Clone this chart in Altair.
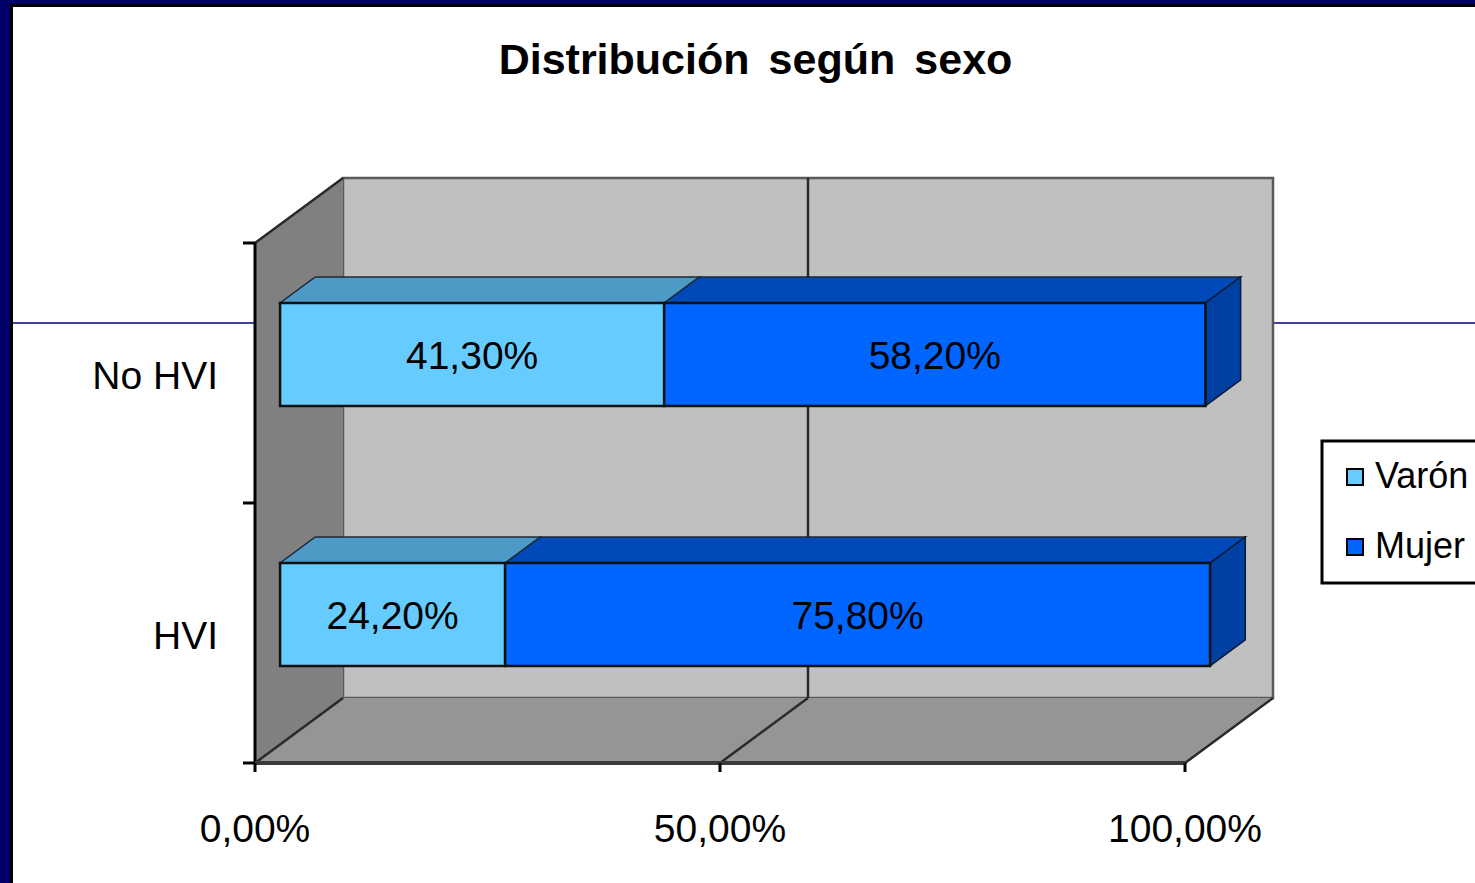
import altair as alt
import pandas as pd

# ---- data -----------------------------------------------------------------
categories = ["HVI", "No HVI"]
series = ["Varón", "Mujer"]
varon = [24.2, 41.3]
mujer = [75.8, 58.2]
x_ticks = [0, 50, 100]
x_tick_labels = ["0,00%", "50,00%", "100,00%"]
title_text = "Distribución\u2006 según\u2006 sexo"

# ---- styling --------------------------------------------------------------
front_colors = ["#66ccff", "#0066ff"]
top_colors = ["#4d9ac6", "#0049b8"]
side_color = "#0040a0"
FONT = "Liberation Sans"

PX_PER_PCT = 9.3          # horizontal pixels per percentage point
PX_PER_ROW = 260          # vertical pixels per category band
DEPTH_X = 88 / PX_PER_PCT  # 3-D depth shift, in x units
DEPTH_Y = 65 / PX_PER_ROW  # 3-D depth shift, in y units
BAR_FRONT = 0.285         # depth fraction where the bar front sits
BAR_DEPTH = 0.40          # bar thickness as a fraction of full depth
BAR_HALF = 0.198          # half bar height, in y units

X_MAX = 100 + DEPTH_X
Y_MAX = 2 + DEPTH_Y
W = round(X_MAX * PX_PER_PCT)
H = round(Y_MAX * PX_PER_ROW)
PAD_L, PAD_T = 255, 178
CANVAS_W, CANVAS_H = 1475, 883

xs = alt.Scale(domain=[0, X_MAX], nice=False, zero=False)
ys = alt.Scale(domain=[0, Y_MAX], nice=False, zero=False)


def ex(f="x"):
    return alt.X(f"{f}:Q", scale=xs, axis=None)


def ey(f="y"):
    return alt.Y(f"{f}:Q", scale=ys, axis=None)


one = pd.DataFrame({"k": [0]})

# ---- frame and slide decoration -------------------------------------------
frame_black = alt.Chart(one).mark_rect(color="black").encode(
    x=alt.value(10 - PAD_L), x2=alt.value(CANVAS_W - PAD_L),
    y=alt.value(4 - PAD_T), y2=alt.value(CANVAS_H - PAD_T))
frame_white = alt.Chart(one).mark_rect(color="white").encode(
    x=alt.value(13 - PAD_L), x2=alt.value(CANVAS_W - PAD_L),
    y=alt.value(7 - PAD_T), y2=alt.value(CANVAS_H - PAD_T))
slide_line = alt.Chart(one).mark_rule(color="#000080", strokeWidth=1.5).encode(
    x=alt.value(13 - PAD_L), x2=alt.value(CANVAS_W - PAD_L),
    y=alt.value(323 - PAD_T))

# ---- walls ----------------------------------------------------------------
back_wall = alt.Chart(pd.DataFrame(
    {"x": [DEPTH_X], "x2": [100 + DEPTH_X], "y": [DEPTH_Y], "y2": [2 + DEPTH_Y]}
)).mark_rect(color="#c0c0c0", stroke="#5a5a5a", strokeWidth=2.5).encode(
    x=ex(), x2="x2:Q", y=ey(), y2="y2:Q")

side_wall = alt.Chart(pd.DataFrame(
    {"x": [0, DEPTH_X], "y": [0, DEPTH_Y], "y2": [2, 2 + DEPTH_Y]}
)).mark_area(orient="vertical", color="#808080").encode(
    x=ex(), y=ey(), y2="y2:Q")

floor = alt.Chart(pd.DataFrame(
    {"x": [0, DEPTH_X, 100, 100 + DEPTH_X],
     "y": [0, 0, 0, DEPTH_Y],
     "y2": [0, DEPTH_Y, DEPTH_Y, DEPTH_Y]}
)).mark_area(orient="vertical", color="#959595").encode(
    x=ex(), y=ey(), y2="y2:Q")

# edges and the 50 % gridline on the back wall and floor
edges = pd.DataFrame({
    "x": [50 + DEPTH_X, 50, 0, 100, 0],
    "x2": [50 + DEPTH_X, 50 + DEPTH_X, DEPTH_X, 100 + DEPTH_X, DEPTH_X],
    "y": [DEPTH_Y, 0, 2, 0, 0],
    "y2": [2 + DEPTH_Y, DEPTH_Y, 2 + DEPTH_Y, DEPTH_Y, DEPTH_Y],
})
edge_lines = alt.Chart(edges).mark_rule(color="#2a2a2a", strokeWidth=2.5).encode(
    x=ex(), x2="x2:Q", y=ey(), y2="y2:Q")

# ---- axes -----------------------------------------------------------------
y_axis = alt.Chart(pd.DataFrame({"x": [0], "y": [0], "y2": [2]})).mark_rule(
    color="black", strokeWidth=3).encode(x=ex(), y=ey(), y2="y2:Q")
x_axis = alt.Chart(pd.DataFrame({"x": [0], "x2": [100], "y": [0]})).mark_rule(
    color="#3a3a3a", strokeWidth=4).encode(x=ex(), x2="x2:Q", y=ey())
x_tick_marks = alt.Chart(pd.DataFrame({"x": x_ticks})).mark_rule(
    color="black", strokeWidth=3).encode(
    x=ex(), y=alt.value(H), y2=alt.value(H + 9))
y_tick_marks = alt.Chart(pd.DataFrame({"y": [0, 1, 2]})).mark_rule(
    color="black", strokeWidth=3).encode(
    y=ey(), x=alt.value(-12), x2=alt.value(0))
x_labels = alt.Chart(pd.DataFrame({"x": x_ticks, "t": x_tick_labels})).mark_text(
    font=FONT, fontSize=39, color="black", baseline="middle", align="center").encode(
    x=ex(), y=alt.value(830 - PAD_T), text="t:N")
y_labels = alt.Chart(pd.DataFrame(
    {"y": [i + 0.5 for i in range(len(categories))], "t": categories}
)).mark_text(font=FONT, fontSize=39, color="black", baseline="middle",
             align="right", dy=4).encode(
    y=ey(), x=alt.value(218 - PAD_L), text="t:N")

# ---- bars -----------------------------------------------------------------
fdx, fdy = BAR_FRONT * DEPTH_X, BAR_FRONT * DEPTH_Y
bdx, bdy = BAR_DEPTH * DEPTH_X, BAR_DEPTH * DEPTH_Y

fronts, tops, sides = [], [], []
for r, cat in enumerate(categories):
    start = 0.0
    seg_vals = [varon[r], mujer[r]]
    for s, (name, v) in enumerate(zip(series, seg_vals)):
        end = start + v
        x0, x1 = start + fdx, end + fdx
        y0 = r + 0.5 - BAR_HALF + fdy
        y1 = r + 0.5 + BAR_HALF + fdy
        fronts.append(dict(series=name, x=x0, x2=x1, y=y0, y2=y1,
                           cx=(x0 + x1) / 2, cy=(y0 + y1) / 2,
                           label=f"{v:.2f}".replace(".", ",") + "%"))
        key = f"{cat}-{name}"
        for px, py, py2 in [(x0, y1, y1), (x0 + bdx, y1, y1 + bdy),
                            (x1, y1, y1 + bdy), (x1 + bdx, y1 + bdy, y1 + bdy)]:
            tops.append(dict(key=key, x=px, y=py, y2=py2, fill=top_colors[s]))
        if s == len(seg_vals) - 1:
            sides.append(dict(key=key, x=x1, y=y0, y2=y1, fill=side_color))
            sides.append(dict(key=key, x=x1 + bdx, y=y0 + bdy, y2=y1 + bdy,
                              fill=side_color))
        start = end

front_df = pd.DataFrame(fronts)
top_faces = alt.Chart(pd.DataFrame(tops)).mark_area(
    orient="vertical", stroke="#1e2a35", strokeWidth=1.5).encode(
    x=ex(), y=ey(), y2="y2:Q", fill=alt.Fill("fill:N", scale=None),
    detail="key:N")
side_faces = alt.Chart(pd.DataFrame(sides)).mark_area(
    orient="vertical", stroke="#0a1a3a", strokeWidth=1.5).encode(
    x=ex(), y=ey(), y2="y2:Q", fill=alt.Fill("fill:N", scale=None),
    detail="key:N")
front_faces = alt.Chart(front_df).mark_rect(stroke="#111111", strokeWidth=2.5).encode(
    x=ex(), x2="x2:Q", y=ey(), y2="y2:Q",
    color=alt.Color("series:N",
                    scale=alt.Scale(domain=series, range=front_colors),
                    legend=alt.Legend(title=None, orient="none",
                                      legendX=1322 - PAD_L, legendY=441 - PAD_T,
                                      symbolType="square", symbolSize=256,
                                      symbolStrokeColor="black",
                                      symbolStrokeWidth=2,
                                      labelFont=FONT, labelFontSize=36,
                                      labelColor="black", labelOffset=2,
                                      symbolOffset=-3, rowPadding=34,
                                      padding=18, strokeColor="black",
                                      fillColor="white")))
bar_labels = alt.Chart(front_df).mark_text(
    font=FONT, fontSize=39, color="black", baseline="middle", align="center",
    dy=3).encode(
    x=alt.X("cx:Q", scale=xs, axis=None), y=alt.Y("cy:Q", scale=ys, axis=None),
    text="label:N")

title = alt.Chart(one).mark_text(
    font=FONT, fontSize=43, fontWeight="bold", color="black",
    align="center", baseline="alphabetic").encode(
    x=alt.value(755.5 - PAD_L), y=alt.value(74 - PAD_T), text=alt.value(title_text))

chart = alt.layer(
    frame_black, frame_white, slide_line,
    back_wall, side_wall, floor, edge_lines,
    y_axis, x_axis, x_tick_marks, y_tick_marks, x_labels, y_labels,
    top_faces, side_faces, front_faces, bar_labels, title,
).properties(
    width=W, height=H,
    padding={"left": PAD_L, "top": PAD_T, "right": CANVAS_W - PAD_L - W,
             "bottom": CANVAS_H - PAD_T - H},
    autosize=alt.AutoSizeParams(type="none"),
    background="#000066",
).configure_view(stroke=None).configure_legend(strokeWidth=3)

chart.save("out.html", embed_options={"renderer": "svg", "actions": False})
